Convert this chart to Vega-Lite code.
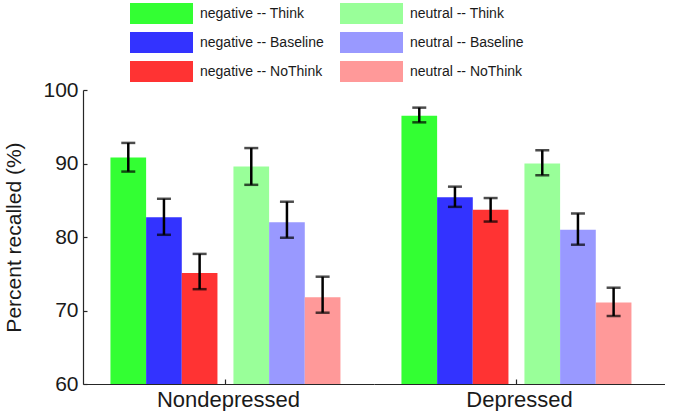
{
  "$schema": "https://vega.github.io/schema/vega-lite/v6.json",
  "autosize": {"type": "pad"},
  "padding": {"left": 3, "top": 3, "right": 0, "bottom": 0},
  "background": "white",
  "config": {
    "font": "Liberation Sans",
    "view": {"stroke": null},
    "axis": {"domainColor": "#262626", "tickColor": "#262626", "labelColor": "#1a1a1a", "titleColor": "#1a1a1a", "grid": false}
  },
  "data": {
    "values": [
      {"group": "Nondepressed", "valence": "negative", "kind": "Think", "cond": "negative -- Think", "mean": 90.8, "lo": 88.9, "hi": 92.8},
      {"group": "Nondepressed", "valence": "negative", "kind": "Baseline", "cond": "negative -- Baseline", "mean": 82.7, "lo": 80.3, "hi": 85.2},
      {"group": "Nondepressed", "valence": "negative", "kind": "NoThink", "cond": "negative -- NoThink", "mean": 75.1, "lo": 72.9, "hi": 77.7},
      {"group": "Nondepressed", "valence": "neutral", "kind": "Think", "cond": "neutral -- Think", "mean": 89.6, "lo": 87.1, "hi": 92.1},
      {"group": "Nondepressed", "valence": "neutral", "kind": "Baseline", "cond": "neutral -- Baseline", "mean": 82.0, "lo": 79.9, "hi": 84.8},
      {"group": "Nondepressed", "valence": "neutral", "kind": "NoThink", "cond": "neutral -- NoThink", "mean": 71.8, "lo": 69.7, "hi": 74.6},
      {"group": "Depressed", "valence": "negative", "kind": "Think", "cond": "negative -- Think", "mean": 96.5, "lo": 95.6, "hi": 97.6},
      {"group": "Depressed", "valence": "negative", "kind": "Baseline", "cond": "negative -- Baseline", "mean": 85.4, "lo": 84.1, "hi": 86.85},
      {"group": "Depressed", "valence": "negative", "kind": "NoThink", "cond": "negative -- NoThink", "mean": 83.7, "lo": 82.1, "hi": 85.3},
      {"group": "Depressed", "valence": "neutral", "kind": "Think", "cond": "neutral -- Think", "mean": 90.0, "lo": 88.4, "hi": 91.8},
      {"group": "Depressed", "valence": "neutral", "kind": "Baseline", "cond": "neutral -- Baseline", "mean": 81.0, "lo": 78.95, "hi": 83.2},
      {"group": "Depressed", "valence": "neutral", "kind": "NoThink", "cond": "neutral -- NoThink", "mean": 71.1, "lo": 69.25, "hi": 73.1}
    ]
  },
  "facet": {
    "column": {
      "field": "group", "type": "nominal", "sort": ["Nondepressed", "Depressed"],
      "header": {"title": null, "labelOrient": "bottom", "labelFontSize": 22, "labelColor": "#1a1a1a", "labelPadding": 5}
    }
  },
  "spacing": 0,
  "spec": {
    "width": 291,
    "height": 294,
    "encoding": {
      "x": {
        "field": "valence", "type": "nominal", "sort": ["negative", "neutral"],
        "scale": {"paddingInner": 0.13, "paddingOuter": 0.248, "align": 0.45},
        "axis": {"title": null, "labels": false, "values": ["negative"], "bandPosition": 1.075, "tickSize": -5, "domainWidth": 1.2, "tickWidth": 1.2}
      },
      "xOffset": {"field": "kind", "type": "nominal", "sort": ["Think", "Baseline", "NoThink"], "scale": {"paddingInner": 0, "paddingOuter": 0}},
      "y": {
        "type": "quantitative",
        "scale": {"domain": [60, 100], "nice": false, "zero": false},
        "axis": {"title": "Percent recalled (%)", "titleFontSize": 21, "titleFontWeight": "normal", "labelFontSize": 21, "values": [60, 70, 80, 90, 100], "tickSize": -4, "labelPadding": 9, "titlePadding": 18, "domainWidth": 1.2, "tickWidth": 1.2}
      }
    },
    "layer": [
      {
        "mark": {"type": "bar"},
        "encoding": {
          "y": {"field": "mean", "type": "quantitative"},
          "y2": {"datum": 60},
          "color": {
            "field": "cond", "type": "nominal",
            "scale": {
              "domain": ["negative -- Think", "negative -- Baseline", "negative -- NoThink", "neutral -- Think", "neutral -- Baseline", "neutral -- NoThink"],
              "range": ["#33ff33", "#3333ff", "#ff3333", "#99ff99", "#9999ff", "#ff9999"]
            },
            "legend": {
              "title": null, "orient": "none", "legendX": 47, "legendY": -87, "columns": 2,
              "symbolType": "M-1,-1L5,-1L5,1L-1,1Z", "symbolSize": 441, "symbolStrokeWidth": 0, "symbolOpacity": 1,
              "labelFontSize": 14, "labelColor": "#1a1a1a", "labelOffset": 49, "rowPadding": 8, "columnPadding": 16, "padding": 0, "labelLimit": 300
            }
          }
        }
      },
      {
        "mark": {"type": "rule", "color": "black", "strokeWidth": 2.5},
        "encoding": {"y": {"field": "lo", "type": "quantitative"}, "y2": {"field": "hi"}}
      },
      {
        "mark": {"type": "tick", "color": "black", "thickness": 2.5, "size": 14},
        "encoding": {"y": {"field": "lo", "type": "quantitative"}}
      },
      {
        "mark": {"type": "tick", "color": "black", "thickness": 2.5, "size": 14},
        "encoding": {"y": {"field": "hi", "type": "quantitative"}}
      }
    ]
  }
}
